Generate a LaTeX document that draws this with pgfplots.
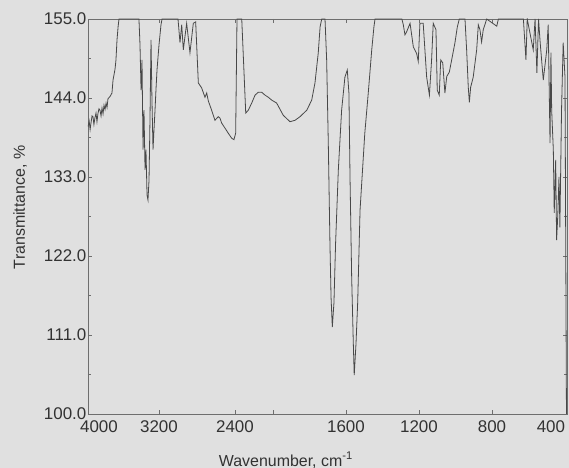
\documentclass[border=0pt]{standalone}
\usepackage{fontspec}
\setmainfont{Liberation Sans}
\usepackage{pgfplots}
\pgfplotsset{compat=1.18}
\usetikzlibrary{backgrounds}
\definecolor{bgc}{RGB}{224,224,224}
\definecolor{linec}{RGB}{72,72,72}
\definecolor{axc}{RGB}{110,110,110}
\definecolor{txtc}{RGB}{50,50,50}
\begin{document}
\begin{tikzpicture}
\begin{axis}[
  scale only axis,
  width=479bp, height=395bp,
  x coord trafo/.code={\pgfmathparse{#1>=2000 ? (4000-#1)*0.095-5 : 185+(2000-#1)*0.1825}},
  xmin=3947.4, xmax=389,
  ymin=100, ymax=155,
  axis line style={axc, line width=0.9bp},
  tick style={axc, line width=0.8bp},
  tick align=inside,
  major tick length=4bp,
  minor tick length=3bp,
  xtick={3200,2400,2000,1600,1200,800},
  xticklabels={3200,2400,,1600,1200,800},
  extra x ticks={3832,477},
  extra x tick labels={4000,400},
  extra x tick style={major tick length=0pt},
  ytick={100,111,122,133,144,155},
  minor y tick num=1,
  yticklabel style={/pgf/number format/fixed, /pgf/number format/fixed zerofill, /pgf/number format/precision=1, /pgf/number format/assume math mode=true, inner sep=1.5bp},
  ticklabel style={font=\fontsize{17}{19}\selectfont, text=txtc},
  xticklabel style={inner sep=1bp, yshift=-5bp},
  xlabel={Wavenumber, cm\textsuperscript{-1}},
  ylabel={Transmittance, \%},
  every axis x label/.style={at={(rel axis cs:0.413,0)}, yshift=-52bp, anchor=base, font=\fontsize{16}{18}\selectfont, text=txtc},
  every axis y label/.style={at={(rel axis cs:0,0.523)}, xshift=-63bp, rotate=90, anchor=base, font=\fontsize{16}{18}\selectfont, text=txtc},
]
\coordinate (O) at (rel axis cs:0,0);
\addplot[linec, line width=0.8bp, mark=none] table {
x y
3947 140.0
3935 140.8
3925 139.6
3916 140.5
3905 141.5
3895 141.4
3885 140.3
3875 141.2
3863 141.9
3853 140.7
3843 141.8
3832 142.5
3821 142.3
3810 141.5
3800 142.6
3789 141.8
3779 143.0
3768 142.4
3757 143.3
3747 142.7
3737 143.9
3716 144.2
3695 144.7
3684 146.5
3663 148.0
3653 149.3
3642 152.1
3630 154.0
3621 155.0
3411 155.0
3400 151.4
3389 145.1
3379 149.3
3368 136.8
3358 142.3
3347 134.0
3337 136.8
3326 130.5
3316 129.8
3305 132.6
3295 140.9
3284 152.1
3274 143.7
3263 136.8
3253 139.5
3242 142.3
3232 145.1
3221 147.9
3200 151.4
3179 154.2
3168 155.0
3000 155.0
2979 151.7
2961 154.2
2944 150.7
2909 154.4
2874 150.3
2839 154.4
2814 154.6
2786 146.1
2751 145.4
2716 144.1
2698 144.7
2681 143.6
2646 142.3
2611 140.9
2576 141.4
2558 141.2
2540 140.5
2505 139.8
2471 139.1
2435 138.4
2411 138.2
2393 139.1
2379 155.0
2329 155.0
2287 141.9
2260 142.3
2224 143.3
2189 144.4
2155 144.8
2119 144.8
2084 144.4
2049 144.1
2013 143.7
1980 143.3
1944 141.6
1907 140.7
1879 140.9
1852 141.4
1815 142.3
1788 143.7
1770 146.1
1752 150.3
1742 153.9
1733 155.0
1715 155.0
1706 149.3
1697 137.7
1688 123.8
1682 116.3
1675 112.1
1666 115.5
1657 123.8
1642 134.0
1624 142.3
1606 146.9
1593 147.9
1584 144.7
1578 133.0
1569 119.1
1560 109.9
1555 105.4
1545 109.9
1536 115.5
1523 128.4
1497 139.1
1478 144.7
1459 150.7
1447 153.9
1441 155.0
1294 155.0
1286 154.2
1277 152.8
1268 153.2
1249 154.4
1231 151.1
1213 150.2
1204 149.1
1195 154.4
1177 154.4
1158 146.9
1143 144.4
1131 149.3
1122 154.4
1107 153.5
1100 145.1
1089 144.4
1081 149.3
1070 148.9
1058 144.7
1048 147.0
1034 147.6
1021 149.3
1003 151.7
990 153.9
979 155.0
948 155.0
939 150.7
930 145.5
924 143.4
917 145.5
903 146.9
884 150.7
875 154.2
866 153.5
857 151.8
848 153.5
829 155.0
774 154.0
765 155.0
628 155.0
614 149.3
607 155.0
574 150.7
564 155.0
554 147.5
545 155.0
536 151.7
519 146.5
500 150.7
492 154.2
482 137.7
477 150.3
473 142.3
464 136.8
459 128.0
451 135.4
446 124.2
440 127.4
433 133.0
428 126.0
419 142.3
410 151.7
400 146.9
392 100.0
};
\end{axis}
\pgfresetboundingbox
\path[use as bounding box] ([xshift=-88bp,yshift=-54bp]O) rectangle ++(569bp,468bp);
\begin{scope}[on background layer]
\fill[bgc] ([xshift=-88bp,yshift=-54bp]O) rectangle ++(569bp,468bp);
\end{scope}
\end{tikzpicture}
\end{document}
